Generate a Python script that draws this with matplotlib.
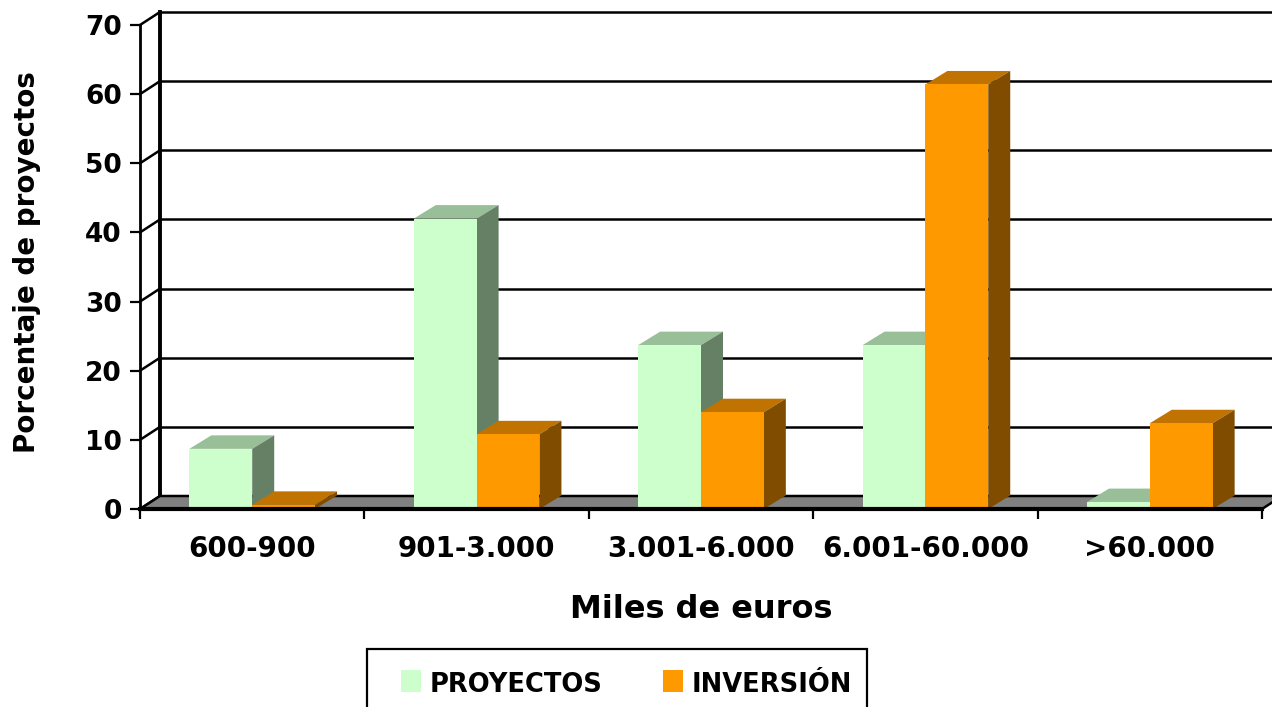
import matplotlib
matplotlib.use('Agg')
import matplotlib.pyplot as plt
from matplotlib.patches import Polygon, Rectangle

# ---------------- data ----------------
categories = ['600-900', '901-3.000', '3.001-6.000', '6.001-60.000', '>60.000']
proyectos = [8.7, 42.0, 23.7, 23.7, 1.0]
inversion = [0.6, 10.8, 14.0, 61.4, 12.4]
series_names = ['PROYECTOS', 'INVERSIÓN']
y_ticks = [0, 10, 20, 30, 40, 50, 60, 70]
x_title = 'Miles de euros'
y_title = 'Porcentaje de proyectos'

# ---------------- style ----------------
front_colors = ['#CCFFCC', '#FF9900']
top_colors = ['#99BF99', '#C07300']
side_colors = ['#668066', '#804C00']
floor_color = '#808080'

plt.rcParams['font.family'] = ['DejaVu Sans']

W, H = 1272, 707
fig = plt.figure(figsize=(W / 100, H / 100), dpi=100)


def fx(px):
    return px / W


def fy(py):
    return 1 - py / H


AX_L, AX_R, AX_T, AX_B = 140, 1262, 25, 509
ax = fig.add_axes([fx(AX_L), fy(AX_B), (AX_R - AX_L) / W, (AX_B - AX_T) / H])
ncat = len(categories)
ax.set_xlim(-0.5, ncat - 0.5)
ax.set_ylim(0, 70)
ax.patch.set_alpha(0)

px_x = (AX_R - AX_L) / ncat
px_y = (AX_B - AX_T) / 70.0
FDX, FDY = 20 / px_x, 13 / px_y      # wall / floor depth
BDX, BDY = 22 / px_x, 13.5 / px_y    # bar depth

x0, x1 = -0.5, ncat - 0.5

# back wall grid lines and side wall diagonals
for v in y_ticks:
    ax.plot([x0 + FDX, x1 + FDX + 0.2], [v + FDY, v + FDY], color='black',
            lw=1.8, clip_on=False, zorder=1, solid_capstyle='butt')
    ax.plot([x0, x0 + FDX], [v, v + FDY], color='black', lw=1.8,
            clip_on=False, zorder=1)
ax.plot([x0 + FDX, x0 + FDX], [FDY, y_ticks[-1] + FDY], color='black',
        lw=2.8, clip_on=False, zorder=1.1)

# floor
floor = Polygon([(x0, 0), (x1, 0), (x1 + FDX, FDY), (x0 + FDX, FDY)],
                closed=True, facecolor=floor_color, edgecolor='black', lw=1.8,
                zorder=2, clip_on=False)
ax.add_patch(floor)

# bars
bw = 0.28
xs = list(range(ncat))
series = [proyectos, inversion]
for j, vals in enumerate(series):
    lefts = [x - bw if j == 0 else x for x in xs]
    bars = ax.bar(lefts, vals, width=bw, align='edge', color=front_colors[j],
                  edgecolor='none', linewidth=0, clip_on=False)
    for i, rect in enumerate(bars):
        z = 3 + (2 * i + j) * 0.1
        rect.set_zorder(z + 0.02)
        bx0 = rect.get_x()
        bx1 = bx0 + rect.get_width()
        v = rect.get_height()
        top = Polygon([(bx0, v), (bx0 + BDX, v + BDY), (bx1 + BDX, v + BDY), (bx1, v)],
                      closed=True, facecolor=top_colors[j], edgecolor='none',
                      zorder=z, clip_on=False)
        side = Polygon([(bx1, 0), (bx1 + BDX, BDY), (bx1 + BDX, v + BDY), (bx1, v)],
                       closed=True, facecolor=side_colors[j], edgecolor='none',
                       zorder=z, clip_on=False)
        ax.add_patch(top)
        ax.add_patch(side)

# spines
for s in ['top', 'right']:
    ax.spines[s].set_visible(False)
ax.spines['left'].set_linewidth(2.0)
ax.spines['left'].set_zorder(10)
ax.spines['bottom'].set_linewidth(3.0)
ax.spines['bottom'].set_zorder(10)

# ticks
ax.set_yticks(y_ticks)
ax.set_yticklabels([str(t) for t in y_ticks], fontsize=19, fontweight='bold')
ax.tick_params(axis='y', length=7.2, width=1.6, pad=5.8, direction='out')
ax.set_xticks(xs)
ax.set_xticklabels(categories, fontsize=20, fontweight='bold')
ax.set_xticks([x0 + k for k in range(ncat + 1)], minor=True)
ax.tick_params(axis='x', which='major', length=0, pad=18.5)
ax.tick_params(axis='x', which='minor', length=7.2, width=1.6, direction='out')

# axis titles
fig.text(fx(701), fy(618), x_title, ha='center', va='baseline', fontsize=23,
         fontweight='bold')
fig.text(fx(27), fy(262), y_title, ha='center', va='center', rotation=90,
         fontsize=20, fontweight='bold')

# legend
fig.patches.append(Rectangle((fx(367), fy(725)), 500 / W, 76 / H,
                             transform=fig.transFigure, fill=False,
                             edgecolor='black', lw=1.6))
leg_sq_x = [401, 663]
leg_tx_x = [430, 692]
for j, name in enumerate(series_names):
    fig.patches.append(Rectangle((fx(leg_sq_x[j]), fy(692)), 20 / W, 22 / H,
                                 transform=fig.transFigure,
                                 facecolor=front_colors[j], edgecolor='none'))
    fig.text(fx(leg_tx_x[j]), fy(692), name, ha='left', va='baseline',
             fontsize=18.5, fontweight='bold')

fig.savefig('out.png', dpi=100)
